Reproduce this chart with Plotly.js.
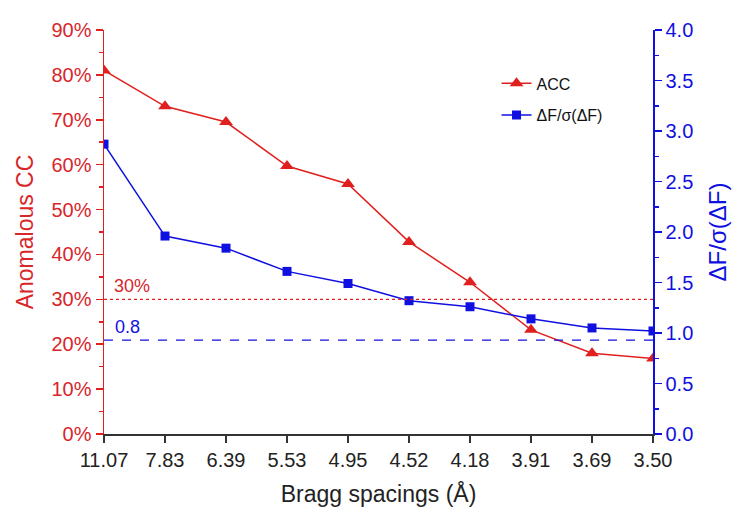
<!DOCTYPE html>
<html>
<head>
<meta charset="utf-8">
<script src="https://cdn.plot.ly/plotly-3.0.1.min.js"></script>
<style>html,body{margin:0;padding:0;background:#fff}#chart{width:754px;height:519px}</style>
</head>
<body>
<div id="chart"></div>
<script>
const spacings = ["11.07","7.83","6.39","5.53","4.95","4.52","4.18","3.91","3.69","3.50"];
const acc = [0.81, 0.73, 0.695, 0.597, 0.557, 0.428, 0.338, 0.232, 0.180, 0.168];
const dfsig = [2.87, 1.96, 1.84, 1.61, 1.49, 1.32, 1.26, 1.14, 1.05, 1.02];
const accThreshold = 0.30;
const accThresholdLabel = "30%";
const dfThreshold = 0.93;
const dfThresholdLabel = "0.8";

const RED = "#e0201e";
const REDTXT = "#d8262b";
const BLUE = "#1010e0";
const FONT = "Liberation Sans, Arial, sans-serif";

const traces = [
  {x: spacings, y: acc, name: "ACC", type: "scatter", mode: "lines+markers",
   line: {color: RED, width: 1.5}, marker: {symbol: "triangle-up", size: 12, color: RED},
   legendgroup: "a"},
  {x: spacings, y: dfsig, name: "ΔF/σ(ΔF)", type: "scatter", mode: "lines+markers", yaxis: "y2",
   line: {color: BLUE, width: 1.5}, marker: {symbol: "square", size: 9, color: BLUE},
   legendgroup: "b"}
];

const layout = {
  width: 754, height: 519,
  margin: {l: 104, r: 101, t: 30, b: 85},
  paper_bgcolor: "#fff", plot_bgcolor: "#fff",
  font: {family: FONT},
  showlegend: true,
  legend: {x: 0.715, y: 0.91, xanchor: "left", yanchor: "top", traceorder: "grouped",
           tracegroupgap: 8, font: {size: 16, color: "#111"}, bgcolor: "rgba(0,0,0,0)"},
  xaxis: {type: "category", range: [0, 9], showgrid: false, zeroline: false,
          showline: true, linecolor: "#333", linewidth: 1.5,
          ticks: "outside", ticklen: 7, tickcolor: "#333", tickwidth: 1.5,
          minor: {ticks: "outside", ticklen: 4, tickcolor: "#333", tickwidth: 1.5},
          tickfont: {size: 20, color: "#222"},
          title: {text: "Bragg spacings (Å)", font: {size: 23, color: "#222"}, standoff: 16}},
  yaxis: {range: [0, 0.9], dtick: 0.1, tickformat: ".0%", showgrid: false, zeroline: false,
          showline: true, linecolor: RED, linewidth: 1.5,
          ticks: "outside", ticklen: 7, tickcolor: RED, tickwidth: 1.5,
          minor: {ticks: "outside", ticklen: 4, tickcolor: RED, tickwidth: 1.5, dtick: 0.05},
          tickfont: {size: 20, color: REDTXT},
          title: {text: "Anomalous CC", font: {size: 23, color: REDTXT}, standoff: 11}},
  yaxis2: {range: [0, 4], dtick: 0.5, tickformat: ".1f", overlaying: "y", side: "right",
           showgrid: false, zeroline: false,
           showline: true, linecolor: BLUE, linewidth: 1.5,
           ticks: "outside", ticklen: 7, tickcolor: BLUE, tickwidth: 1.5,
           minor: {ticks: "outside", ticklen: 4, tickcolor: BLUE, tickwidth: 1.5, dtick: 0.25},
           tickfont: {size: 20, color: BLUE},
           title: {text: "ΔF/σ(ΔF)", font: {size: 24, color: BLUE}, standoff: 17}},
  shapes: [
    {type: "line", xref: "paper", x0: 0, x1: 1, yref: "y", y0: accThreshold, y1: accThreshold,
     line: {color: RED, width: 1.2, dash: "dot"}},
    {type: "line", xref: "paper", x0: 0, x1: 1, yref: "y2", y0: dfThreshold, y1: dfThreshold,
     line: {color: BLUE, width: 1.2, dash: "dash"}}
  ],
  annotations: [
    {xref: "paper", x: 0.014, yref: "y", y: accThreshold, text: accThresholdLabel, showarrow: false,
     xanchor: "left", yanchor: "bottom", yshift: 1, font: {size: 18, color: REDTXT}},
    {xref: "paper", x: 0.016, yref: "y2", y: dfThreshold, text: dfThresholdLabel, showarrow: false,
     xanchor: "left", yanchor: "bottom", yshift: 1, font: {size: 18, color: BLUE}}
  ]
};

Plotly.newPlot("chart", traces, layout, {displayModeBar: false, staticPlot: true});
</script>
</body>
</html>
